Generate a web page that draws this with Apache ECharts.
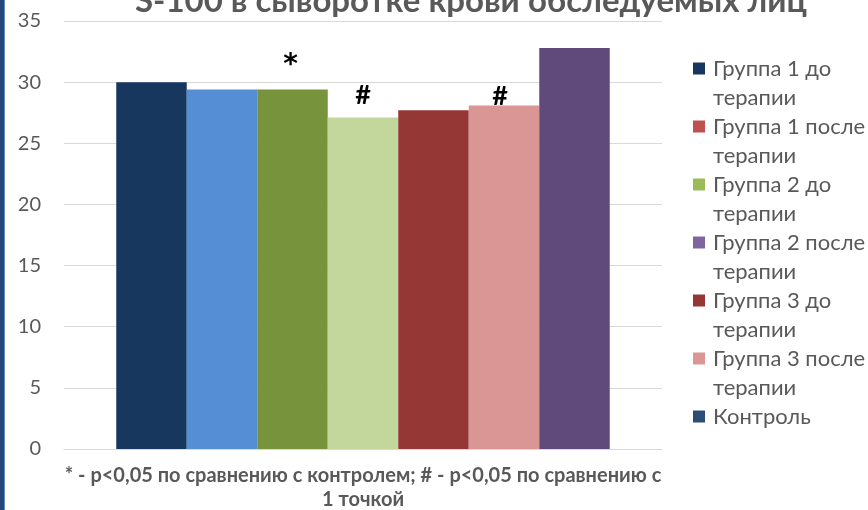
<!DOCTYPE html>
<html>
<head>
<meta charset="utf-8">
<script src="https://cdn.jsdelivr.net/npm/echarts@6/dist/echarts.min.js"></script>
<style>
    html, body { margin: 0; padding: 0; background: #fff; }
    #wrap { position: relative; width: 868px; height: 510px; }
    #chart { width: 868px; height: 510px; }
    #edge { position: absolute; left: 0; top: 0; width: 4px; height: 510px; background: #24477c; border-right: 1px solid #6a8cc0; }
</style>
</head>
<body>
<div id="wrap">
    <div id="chart"></div>
    <div id="edge"></div>
</div>
<script>
const groups = [
    'Группа 1 до терапии',
    'Группа 1 после терапии',
    'Группа 2 до терапии',
    'Группа 2 после терапии',
    'Группа 3 до терапии',
    'Группа 3 после терапии',
    'Контроль',
];
const values = [30.0, 29.4, 29.4, 27.1, 27.7, 28.1, 32.8];
const marks = ['', '', '*', '#', '', '#', ''];
const yTicks = { min: 0, max: 35, step: 5 };

// bar fill differs from the legend swatch in the source chart
const barColors = ['#17375e', '#558ed5', '#77933c', '#c3d69b', '#953735', '#d99694', '#604a7b'];
const legendColors = ['#17375e', '#c0504d', '#9bbb59', '#8064a2', '#953735', '#d99694', '#2c4d75'];

const font = 'Lato, "Open Sans", sans-serif';
const grey = '#595959';
// the significance marks were placed by hand, not at a fixed gap
const markPlace = {
    2: { distance: 10, offset: [-2, 0], font: '"DejaVu Sans", sans-serif', size: 28 },
    3: { distance: 9, offset: [0, 0], font, size: 27 },
    5: { distance: -4, offset: [-4, 0], font, size: 27 },
};

// legend: first line sits on the swatch, "терапии" wraps below it
const legendText = (name) => {
    const cut = name.lastIndexOf(' ');
    if (name.includes('терапии')) return '\n' + name.slice(0, cut) + '\n' + name.slice(cut + 1);
    return '\n' + name + '\n\u00a0';
};

const chart = echarts.init(document.getElementById('chart'), null, { renderer: 'canvas' });

chart.setOption({
    animation: false,
    backgroundColor: '#fff',
    title: {
        text: 'S-100 в сыворотке крови обследуемых лиц',
        left: 130,
        top: -20,
        textStyle: { color: grey, fontSize: 33, fontWeight: 'bold', fontFamily: font },
    },
    grid: { left: 64, right: 206, top: 21, bottom: 61, outerBoundsMode: 'none' },
    legend: {
        orient: 'vertical',
        left: 688,
        top: 20,
        itemWidth: 12,
        itemHeight: 12,
        itemGap: -29,
        icon: 'rect',
        formatter: legendText,
        textStyle: { color: grey, fontSize: 22, fontFamily: font, lineHeight: 29, padding: [0, 0, 0, 3] },
        data: groups,
    },
    xAxis: {
        type: 'category',
        data: ['S-100'],
        axisLabel: { show: false },
        axisTick: { show: false },
        axisLine: { lineStyle: { color: '#d9d9d9' } },
        name: '* - p<0,05 по сравнению с контролем; # - p<0,05 по сравнению с\n1 точкой',
        nameLocation: 'middle',
        nameGap: 15,
        nameTextStyle: { color: grey, fontSize: 20, fontWeight: 'bold', fontFamily: font, lineHeight: 24 },
    },
    yAxis: {
        type: 'value',
        min: yTicks.min,
        max: yTicks.max,
        interval: yTicks.step,
        axisLine: { show: false },
        axisTick: { show: false },
        axisLabel: { color: grey, fontSize: 20, fontFamily: font, margin: 23 },
        splitLine: { lineStyle: { color: '#d9d9d9', width: 1 } },
    },
    series: groups.map((name, i) => {
        const place = markPlace[i] || { distance: 0, offset: [0, 0], font, size: 27 };
        return {
            name,
            type: 'bar',
            barWidth: 70.5,
            barGap: '0%',
            itemStyle: { color: legendColors[i] },
            data: [{
                value: values[i],
                itemStyle: { color: barColors[i] },
                label: {
                    show: marks[i] !== '',
                    position: 'top',
                    distance: place.distance,
                    offset: place.offset,
                    formatter: marks[i],
                    color: '#000',
                    fontSize: place.size,
                    fontWeight: 'bold',
                    fontFamily: place.font,
                },
            }],
        };
    }),
});
</script>
</body>
</html>
